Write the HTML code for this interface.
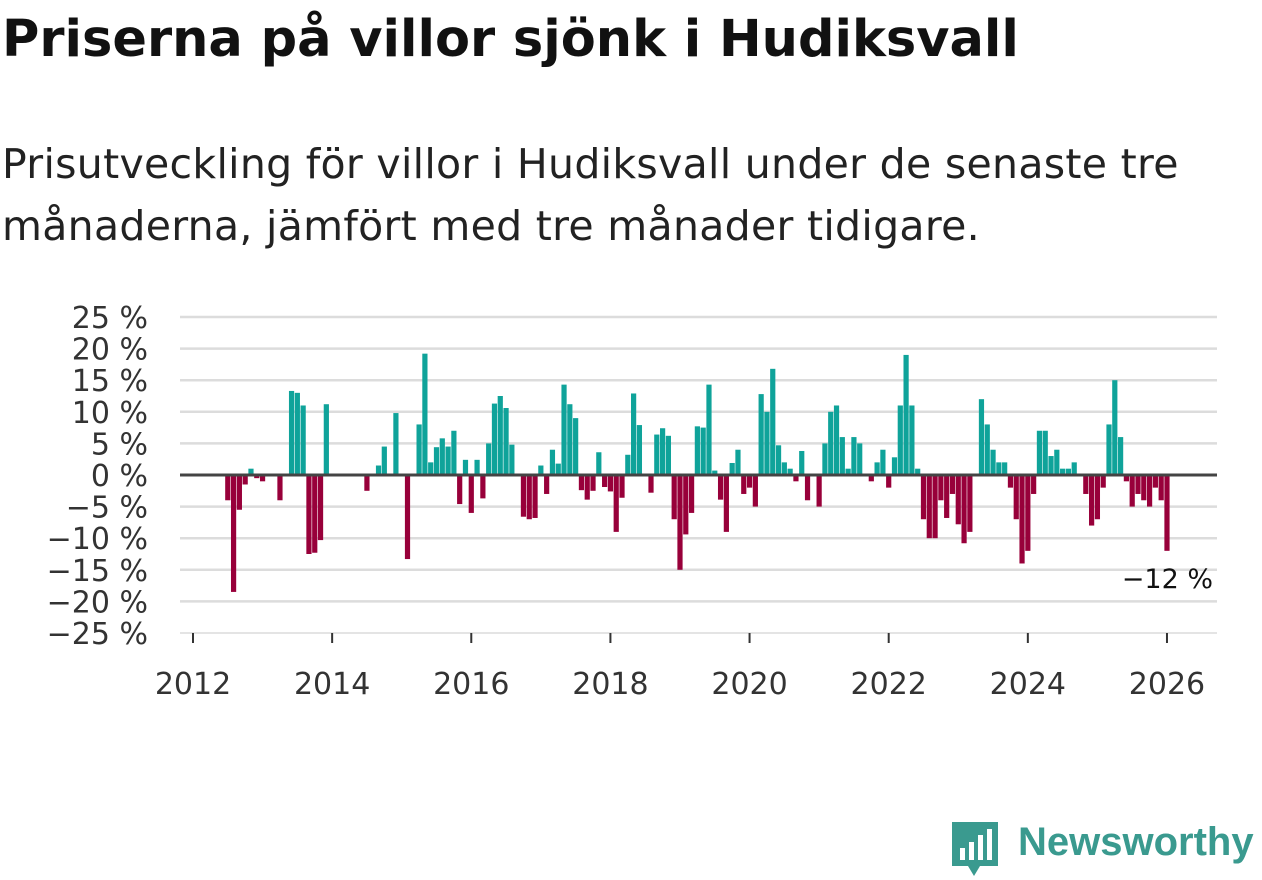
<!DOCTYPE html>
<html><head><meta charset="utf-8">
<style>
body{margin:0;background:#fff;width:1262px;height:879px;overflow:hidden;font-family:"DejaVu Sans","Liberation Sans",sans-serif;}
h1{position:absolute;left:2px;top:10px;margin:0;font-size:51px;font-weight:bold;color:#111;white-space:nowrap}
.sub{position:absolute;left:2px;top:133px;margin:0;font-size:41px;line-height:62px;color:#222;white-space:nowrap;letter-spacing:0.3px}
</style></head><body>
<h1>Priserna på villor sjönk i Hudiksvall</h1>
<p class="sub">Prisutveckling för villor i Hudiksvall under de senaste tre<br>månaderna, jämfört med tre månader tidigare.</p>
<svg id="chart" width="1262" height="879" style="position:absolute;left:0;top:0" font-family="DejaVu Sans, Liberation Sans, sans-serif"></svg>
<script>
const yTicks=[25,20,15,10,5,0,-5,-10,-15,-20,-25];
const xTicks=[2012,2014,2016,2018,2020,2022,2024,2026];
const startYear=2012, startMonth=6;
const values=[-4,-18.5,-5.5,-1.5,1,-0.5,-1,0,0,-4,0,13.3,13,11,-12.5,-12.3,-10.3,11.2,0,0,0,0,0,0,-2.5,0,1.5,4.5,0,9.8,0,-13.3,0,8,19.2,2,4.4,5.8,4.5,7,-4.6,2.4,-6,2.4,-3.7,5,11.3,12.5,10.6,4.8,0,-6.6,-7,-6.8,1.5,-3,4,1.8,14.3,11.2,9,-2.4,-3.9,-2.5,3.6,-1.9,-2.6,-9,-3.6,3.2,12.9,7.9,0,-2.8,6.4,7.4,6.2,-7,-15,-9.4,-6,7.7,7.5,14.3,0.7,-3.9,-9,1.9,4,-3,-2,-5,12.8,10,16.8,4.7,2,1,-1,3.8,-4,0,-5,5,10,11,6,1,6,5,0,-1,2,4,-2,2.8,11,19,11,1,-7,-10,-10,-4,-6.8,-3,-7.8,-10.8,-9,0,12,8,4,2,2,-2,-7,-14,-12,-3,7,7,3,4,1,1,2,0,-3,-8,-7,-2,8,15,6,-1,-5,-3,-4,-5,-2,-4,-12];
const lastLabel="−12 %";
const svg=document.getElementById('chart');
const NS='http://www.w3.org/2000/svg';
const y=v=>475-v*6.32;
const x=yr=>193+(yr-2012)*69.57;
function mk(t,a){const e=document.createElementNS(NS,t);for(const k in a)e.setAttribute(k,a[k]);svg.appendChild(e);return e;}
yTicks.forEach(t=>{
  if(t!==0 && t!==-25){const g=mk('line',{x1:180,x2:1217,y1:y(t),y2:y(t),stroke:'#dcdcdc','stroke-width':2.5});
  
  }
  const l=mk('text',{x:148,y:y(t)+11,'text-anchor':'end','font-size':30,fill:'#333'});
  l.textContent=(t<0?'−'+(-t):t)+' %';
  
  
});
const ax=mk('line',{x1:180,x2:1217,y1:y(-25),y2:y(-25),stroke:'#dcdcdc','stroke-width':1.5});


xTicks.forEach(t=>{
  const tk=mk('line',{x1:x(t),x2:x(t),y1:y(-25),y2:y(-25)+10,stroke:'#333','stroke-width':2});
  
  
  const l=mk('text',{x:x(t),y:694,'text-anchor':'middle','font-size':30,fill:'#333'});
  l.textContent=t;
  
  
});
values.forEach((v,i)=>{
  if(v===0)return;
  const m=startMonth+i;
  const cx=x(startYear+m/12);
  const r=mk('rect',{x:cx-2.6,width:5.2,y:Math.min(y(v),y(0)),height:Math.abs(y(v)-y(0)),fill:v>0?'#0fa39a':'#98003a'});
  
  
});
const z=mk('line',{x1:180,x2:1217,y1:y(0),y2:y(0),stroke:'#444','stroke-width':3});


const ll=mk('text',{x:1213,y:y(values[values.length-1])+37,'text-anchor':'end','font-size':27,fill:'#111'});
ll.textContent=lastLabel;


</script>
<div style="position:absolute;left:950px;top:818px;width:310px;height:60px">
<svg width="52" height="60" style="position:absolute;left:0;top:2px"><path d="M2 2h46v44h-18l-6 10l-6-10h-16z" fill="#3a9a8f"/><rect x="10" y="28" width="5" height="12" fill="#fff"/><rect x="19" y="22" width="5" height="18" fill="#fff"/><rect x="28" y="15" width="5" height="25" fill="#fff"/><rect x="37" y="9" width="5" height="31" fill="#fff"/></svg>
<span style="position:absolute;left:68px;top:2px;font-family:'Liberation Sans',sans-serif;font-size:40px;font-weight:bold;color:#3a9a8f">Newsworthy</span>
</div>
</body></html>
